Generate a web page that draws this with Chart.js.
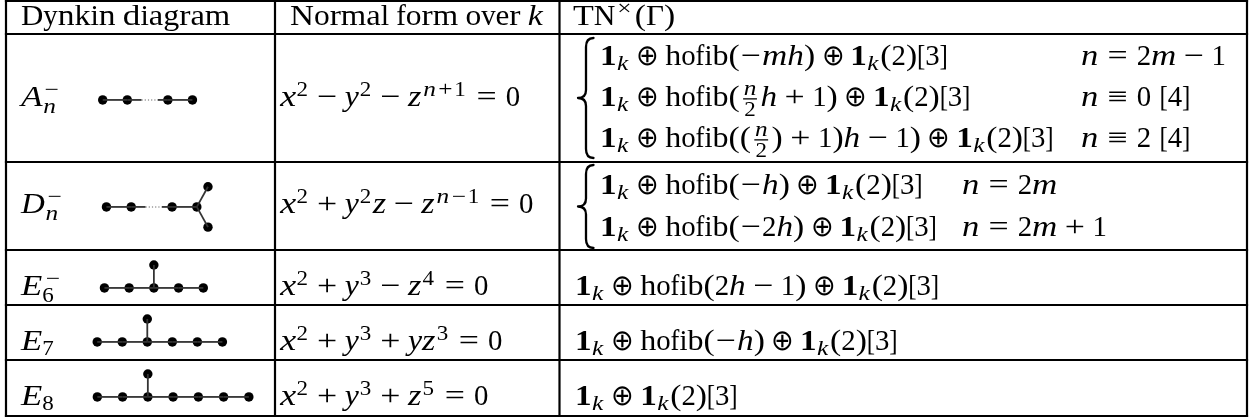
<!DOCTYPE html>
<html><head><meta charset="utf-8">
<script src="https://cdn.jsdelivr.net/npm/chart.js@4.4.1/dist/chart.umd.min.js"></script>
<style>
html,body{margin:0;padding:0;background:#fff;}
#wrap{position:relative;width:1253px;height:420px;overflow:hidden;background:#fff;}
#wrap canvas{position:absolute;}
</style></head><body>
<div id="wrap"><canvas id="main" width="1253" height="420" style="left:0;top:0"></canvas></div>
<script>
// ================= DATA =================
const headerCol1 = 'Dynkin diagram';
const headerCol2 = 'Normal form over ';
const headerCol2Var = 'k';
const headerCol3 = '\\rm{TN}^{×}(Γ)';
const dynkinTypes = ['A_n^{−}', 'D_n^{−}', 'E_6^{−}', 'E_7', 'E_8'];
const normalForms = [
  'x^2 − y^2 − z^{n+1} = 0',
  'x^2 + y^2z − z^{n−1} = 0',
  'x^2 + y^3 − z^4 = 0',
  'x^2 + y^3 + yz^3 = 0',
  'x^2 + y^3 + z^5 = 0'
];
const tnA = [
  '\\bf1_k ⊕ \\rm{hofib}(−mh) ⊕ \\bf1_k(2)[3]',
  '\\bf1_k ⊕ \\rm{hofib}(\\frac{n}{2}h + 1) ⊕ \\bf1_k(2)[3]',
  '\\bf1_k ⊕ \\rm{hofib}((\\frac{n}{2}) + 1)h − 1) ⊕ \\bf1_k(2)[3]'
];
const condA = ['n = 2m − 1', 'n ≡ 0\\sp[4]', 'n ≡ 2\\sp[4]'];
const tnD = [
  '\\bf1_k ⊕ \\rm{hofib}(−h) ⊕ \\bf1_k(2)[3]',
  '\\bf1_k ⊕ \\rm{hofib}(−2h) ⊕ \\bf1_k(2)[3]'
];
const condD = ['n = 2m', 'n = 2m + 1'];
const tnE = [
  '\\bf1_k ⊕ \\rm{hofib}(2h − 1) ⊕ \\bf1_k(2)[3]',
  '\\bf1_k ⊕ \\rm{hofib}(−h) ⊕ \\bf1_k(2)[3]',
  '\\bf1_k ⊕ \\bf1_k(2)[3]'
];
// Dynkin graphs (node coordinates in lattice units, edges by node index)
const nodesA = [[0,0],[1,0],[2.65,0],[3.65,0]];
const edgesA = [[0,1],[2,3]];
const dottedA = [[1,2]];
const nodesD = [[0,0],[1,0],[2.65,0],[3.65,0],[4.1,0.88],[4.1,-0.88]];
const edgesD = [[0,1],[2,3],[3,4],[3,5]];
const dottedD = [[1,2]];
const nodesE6 = [[0,0],[1,0],[2,0],[3,0],[4,0],[2,1]];
const edgesE6 = [[0,1],[1,2],[2,3],[3,4],[2,5]];
const nodesE7 = [[0,0],[1,0],[2,0],[3,0],[4,0],[5,0],[2,1]];
const edgesE7 = [[0,1],[1,2],[2,3],[3,4],[4,5],[2,6]];
const nodesE8 = [[0,0],[1,0],[2,0],[3,0],[4,0],[5,0],[6,0],[2,1]];
const edgesE8 = [[0,1],[1,2],[2,3],[3,4],[4,5],[5,6],[2,7]];

// ================= LAYOUT / STYLE =================
const F = 28.8;
const COL_X = [6, 275, 559.5, 1247];
const ROW_Y = [0.8, 34, 162, 250, 305, 360, 416];

function detectFamily(cands){
  const c=document.createElement('canvas').getContext('2d');
  const test='Dynkin hofib 0123 xyz ABCDE mmm';
  for(const f of cands){
    c.font='40px "'+f+'", monospace'; const a=c.measureText(test).width;
    c.font='40px "'+f+'", sans-serif'; const b=c.measureText(test).width;
    if(Math.abs(a-b)<0.01) return '"'+f+'"';
  }
  return 'serif';
}
const FAM = detectFamily(['Liberation Serif','Times New Roman','Tinos','DejaVu Serif']) + ',serif';

const ADV = {
  it: {x:.572,y:.490,z:.465,n:.600,m:.878,h:.576,k:.521,A:.750,D:.828,E:.738},
  rm: {'0':.5,'1':.5,'2':.5,'3':.5,'4':.5,'5':.5,'6':.5,'7':.5,'8':.5,'9':.5,'(':.389,')':.389,'[':.278,']':.278,
       '=':.778,'+':.778,'−':.778,'⊕':.778,'≡':.778,'×':.778,h:.556,o:.5,f:.306,i:.278,b:.556,T:.722,N:.75,'Γ':.625},
  bf: {'1':.575},
  pal: {D:.774,y:.5,n:.582,k:.556,i:.291,' ':.25,d:.611,a:.5,g:.556,r:.389,m:.883,N:.831,o:.546,l:.291,f:.333,v:.5,e:.479}
};
const ITAL = {y:.036,z:.044,E:.058,D:.028,k:.03};
const CLS = {'+':'bin','−':'bin','⊕':'bin','×':'bin','=':'rel','≡':'rel','(':'open','[':'open',')':'close',']':'close'};

function fontFor(style, size){
  return (style==='it'?'italic ':style==='bf'?'bold ':'') + size.toFixed(2)+'px '+FAM;
}
function parseMath(s){
  let i=0;
  const skip=()=>{ while(i<s.length && s[i]===' ') i++; };
  const charAtom=(c,style)=>({kind:'char', ch:c, style: style || (/[A-Za-z]/.test(c)?'it':'rm'), cls: CLS[c]||'ord'});
  function arg(){ skip(); if(s[i]==='{'){ i++; const l=list('}'); i++; return l; } return [charAtom(s[i++])]; }
  function rawArg(){ skip(); if(s[i]==='{'){ const j=s.indexOf('}',i); const r=s.slice(i+1,j); i=j+1; return r; } return s[i++]; }
  function list(end){
    const out=[];
    while(i<s.length){
      skip(); if(i>=s.length) break;
      const c=s[i]; if(end && c===end) break;
      if(c==='\\'){
        i++; let name=''; while(i<s.length && /[a-z]/.test(s[i])) name+=s[i++];
        if(name==='frac'){ const nu=arg(), de=arg(); out.push({kind:'frac', num:nu, den:de, cls:'ord'}); }
        else if(name==='sp'){ out.push({kind:'space', w:0.3}); }
        else { const r=rawArg(); for(const ch of r) out.push(charAtom(ch, name)); }
      } else if(c==='^'||c==='_'){
        i++; const a=arg(); const p=out[out.length-1]; if(c==='^') p.sup=a; else p.sub=a;
      } else if(c==='{'){ i++; const l=list('}'); i++; out.push({kind:'group', list:l, cls:'ord'}); }
      else { i++; out.push(charAtom(c)); }
    }
    return out;
  }
  return list(null);
}
function layoutNucleus(a, script){
  const sc = script?0.8:1, gs = script?0.72*F:F*1.02;
  if(a.kind==='char'){
    const em=(ADV[a.style]||{})[a.ch];
    const w = em!=null ? em*F*sc : gs*0.6;
    return {items:[{t:'g', ch:a.ch, style:a.style, size:gs, x:0, y:0, adv:w}], w};
  }
  if(a.kind==='group') return layoutList(a.list, script);
  if(a.kind==='frac'){
    const num=layoutList(a.num,true), den=layoutList(a.den,true);
    const nd=0.12*F, wid=Math.max(num.w,den.w), items=[];
    num.items.forEach(it=>{ it.x+=nd+(wid-num.w)/2; it.y-=0.394*F; items.push(it); });
    den.items.forEach(it=>{ it.x+=nd+(wid-den.w)/2; it.y+=0.344*F; items.push(it); });
    items.push({t:'r', x:nd, y:-0.27*F, w:wid, h:0.045*F});
    return {items, w:wid+2*nd};
  }
  return {items:[], w:0};
}
function layoutList(list, script){
  const out=[]; let x=0, prev=null;
  for(let k=0;k<list.length;k++){
    const a=list[k];
    if(a.kind==='space'){ x+=a.w*F; continue; }
    let cls=a.cls;
    if(cls==='bin'){
      const nx=list[k+1];
      if(prev===null||prev==='bin'||prev==='rel'||prev==='open'||!nx||nx.cls==='rel'||nx.cls==='close') cls='ord';
    }
    if(!script && prev){
      if(cls==='bin'||prev==='bin') x+=F*4/18;
      else if((cls==='rel'||prev==='rel') && !(cls==='rel'&&prev==='rel')) x+=F*5/18;
    }
    const nuc=layoutNucleus(a, script);
    nuc.items.forEach(it=>{ it.x+=x; out.push(it); });
    let nxp=x+nuc.w;
    if(a.sup||a.sub){
      const sup=a.sup?layoutList(a.sup,true):null, sub=a.sub?layoutList(a.sub,true):null;
      const ic=(a.kind==='char'&&a.style==='it')?(ITAL[a.ch]||0)*F:0;
      let wm=0;
      if(sup){ sup.items.forEach(it=>{ it.x+=nxp+ic; it.y-=0.363*F; out.push(it); }); wm=Math.max(wm,sup.w+ic); }
      if(sub){ const dy=(sup?0.247:0.17)*F; sub.items.forEach(it=>{ it.x+=nxp; it.y+=dy; out.push(it); }); wm=Math.max(wm,sub.w); }
      nxp+=wm+0.05*F;
    }
    x=nxp; prev=cls;
  }
  return {items:out, w:x};
}
function layoutPal(str){
  const items=[]; let x=0;
  for(const ch of str){ const w=(ADV.pal[ch]||.5)*F; items.push({t:'g', ch, style:'rm', size:F*1.04, x, y:0, adv:w}); x+=w; }
  return {items, w:x};
}
function drawItems(ctx, items, ox, oy){
  ctx.fillStyle='#000'; ctx.textBaseline='alphabetic'; ctx.textAlign='left';
  items.forEach(it=>{
    if(it.t==='r'){ ctx.fillRect(ox+it.x, oy+it.y, it.w, it.h); return; }
    if(it.ch===' ') return;
    ctx.font=fontFor(it.style, it.size);
    const m=ctx.measureText(it.ch).width || 1;
    let sx=Math.max(0.85, Math.min(1.22, it.adv/m));
    const off=(it.adv-m*sx)/2;
    ctx.save(); ctx.translate(ox+it.x+off, oy+it.y); ctx.scale(sx,1); ctx.fillText(it.ch,0,0); ctx.restore();
  });
}
function drawMath(ctx, str, x, y){ const L=layoutList(parseMath(str), false); drawItems(ctx, L.items, x, y); return L.w; }
function drawBrace(ctx, x, y0, y1){
  const xl=x, xm=x+8, xr=x+15.5, mid=(y0+y1)/2;
  ctx.save(); ctx.strokeStyle='#000'; ctx.lineWidth=2.3; ctx.lineCap='round'; ctx.lineJoin='round';
  ctx.beginPath();
  ctx.moveTo(xr, y0); ctx.quadraticCurveTo(xm, y0, xm, y0+9);
  ctx.lineTo(xm, mid-8); ctx.quadraticCurveTo(xm, mid, xl, mid);
  ctx.quadraticCurveTo(xm, mid, xm, mid+8);
  ctx.lineTo(xm, y1-9); ctx.quadraticCurveTo(xm, y1, xr, y1);
  ctx.stroke(); ctx.restore();
}

const tablePlugin = {
  id: 'tableText',
  afterDraw(chart){
    const ctx=chart.ctx, X=v=>chart.scales.x.getPixelForValue(v), Y=v=>chart.scales.y.getPixelForValue(v);
    ctx.save(); ctx.strokeStyle='#000'; ctx.lineWidth=2.2;
    COL_X.forEach(c=>{ ctx.beginPath(); ctx.moveTo(X(c), Y(ROW_Y[0])-1.1); ctx.lineTo(X(c), Y(ROW_Y[ROW_Y.length-1])+1.1); ctx.stroke(); });
    ROW_Y.forEach(r=>{ ctx.beginPath(); ctx.moveTo(X(COL_X[0])-1.1, Y(r)); ctx.lineTo(X(COL_X[COL_X.length-1])+1.1, Y(r)); ctx.stroke(); });
    ctx.restore();
    const h1=layoutPal(headerCol1); drawItems(ctx, h1.items, X(21), Y(25));
    const h2=layoutPal(headerCol2); drawItems(ctx, h2.items, X(290), Y(25));
    drawMath(ctx, headerCol2Var, X(290)+h2.w, Y(25));
    drawMath(ctx, headerCol3, X(573), Y(25));
    const base=[106, 213, 295, 350, 405];
    dynkinTypes.forEach((t,i)=>drawMath(ctx, t, X(21), Y(base[i])));
    normalForms.forEach((t,i)=>drawMath(ctx, t, X(280), Y(base[i])));
    drawBrace(ctx, X(578), Y(38), Y(158));
    const baseA=[65, 106, 147];
    tnA.forEach((t,i)=>{ drawMath(ctx, t, X(600), Y(baseA[i])); drawMath(ctx, condA[i], X(1081), Y(baseA[i])); });
    drawBrace(ctx, X(578), Y(165), Y(248));
    const baseD=[194, 236];
    tnD.forEach((t,i)=>{ drawMath(ctx, t, X(600), Y(baseD[i])); drawMath(ctx, condD[i], X(962), Y(baseD[i])); });
    tnE.forEach((t,i)=>drawMath(ctx, t, X(575), Y(base[i+2])));
  }
};

const mainChart = new Chart(document.getElementById('main'), {
  type: 'scatter',
  data: { datasets: [] },
  options: {
    responsive:false, animation:false, events:[],
    layout:{padding:0},
    scales:{ x:{type:'linear', display:false, min:0, max:1253}, y:{type:'linear', display:false, min:0, max:420, reverse:true} },
    plugins:{ legend:{display:false}, tooltip:{enabled:false} }
  },
  plugins:[tablePlugin]
});
if (document.fonts && document.fonts.ready) document.fonts.ready.then(()=>mainChart.draw());

// ================= Dynkin diagrams =================
const UNIT = 26.6;
function dynkinChart(nodes, edges, dotted, ox, oy){
  const xs=nodes.map(n=>n[0]);
  const left=Math.round(ox+(Math.min(...xs)-0.5)*UNIT), top=Math.round(oy-1.3*UNIT);
  const w=Math.round((Math.max(...xs)-Math.min(...xs)+1)*UNIT), h=Math.round(2.6*UNIT);
  const xmin=(left-ox)/UNIT, xmax=xmin+w/UNIT, ymax=(oy-top)/UNIT, ymin=ymax-h/UNIT;
  const cv=document.createElement('canvas'); cv.width=w; cv.height=h;
  cv.style.left=left+'px'; cv.style.top=top+'px';
  document.getElementById('wrap').appendChild(cv);
  const pt=i=>({x:nodes[i][0], y:nodes[i][1]});
  const lerp=(a,b,t)=>({x:a.x+(b.x-a.x)*t, y:a.y+(b.y-a.y)*t});
  const line={showLine:true, borderColor:'#333', borderWidth:1.8, pointRadius:0, clip:false};
  const ds=[];
  edges.forEach(([a,b])=>ds.push(Object.assign({data:[pt(a),pt(b)]}, line)));
  dotted.forEach(([a,b])=>{
    const pa=pt(a), pb=pt(b), p1=lerp(pa,pb,0.35), p2=lerp(pa,pb,0.75);
    ds.push(Object.assign({data:[pa,p1]}, line));
    ds.push({data:[p1,p2], showLine:true, borderColor:'#999', borderWidth:1.4, borderDash:[1.2,2], pointRadius:0, clip:false});
    ds.push(Object.assign({data:[p2,pb]}, line));
  });
  ds.push({data:nodes.map((n,i)=>pt(i)), showLine:false, pointRadius:4.7, pointBackgroundColor:'#000', pointBorderWidth:0, clip:false});
  new Chart(cv, {
    type:'scatter', data:{datasets:ds},
    options:{ responsive:false, animation:false, events:[], layout:{padding:0},
      scales:{ x:{type:'linear', display:false, min:xmin, max:xmax}, y:{type:'linear', display:false, min:ymin, max:ymax} },
      plugins:{ legend:{display:false}, tooltip:{enabled:false} } }
  });
}
dynkinChart(nodesA, edgesA, dottedA, 99, 100);
dynkinChart(nodesD, edgesD, dottedD, 102.7, 207);
dynkinChart(nodesE6, edgesE6, [], 100.7, 288);
dynkinChart(nodesE7, edgesE7, [], 93.3, 342);
dynkinChart(nodesE8, edgesE8, [], 93.3, 397);
</script>
</body></html>
